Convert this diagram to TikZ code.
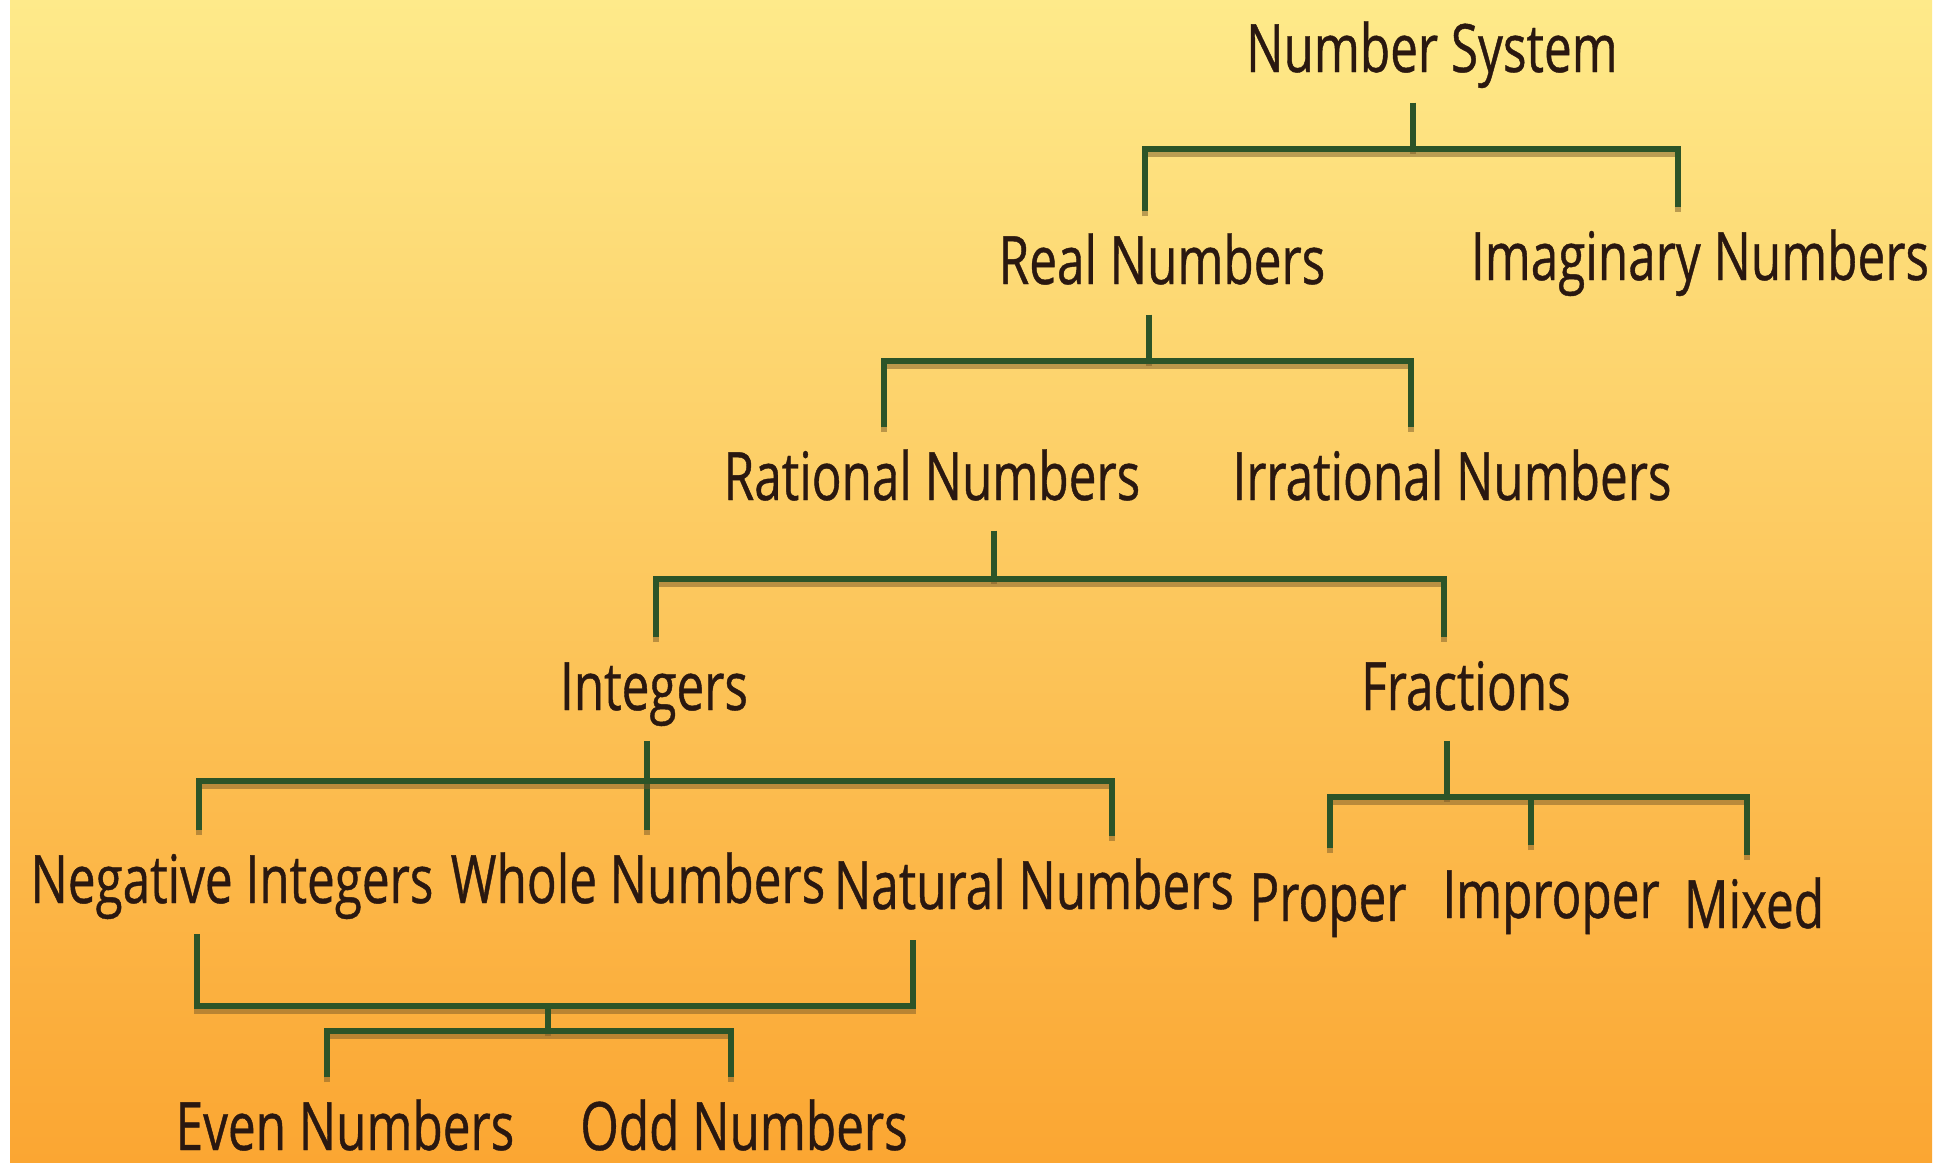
\documentclass[tikz,border=0pt]{standalone}
\usepackage{fontspec}
\setmainfont{Open Sans}[FakeStretch=0.74,FakeBold=0.6]
\usepackage{tikz}
\definecolor{bgtop}{RGB}{254,234,138}
\definecolor{bgmid}{RGB}{253,206,102}
\definecolor{bgbot}{RGB}{251,166,50}
\definecolor{termtext}{RGB}{42,24,16}
\definecolor{linegreen}{RGB}{44,84,40}
\definecolor{lineshade}{RGB}{120,90,40}
\tikzset{
    %Define style for the labels
    term/.style={
           anchor=base,
           inner xsep=0pt,
           inner ysep=0.1cm,
           text height=0.62cm,
           text depth=0.2cm,
           font=\fontsize{19}{22}\selectfont,
           text=termtext},
    %Define style for the connectors
    branch/.style={
           draw=linegreen,
           line width=1.7pt,
           preaction={draw=lineshade, opacity=0.5, line width=1.7pt,
                      transform canvas={yshift=-1.4pt}}}
}
\begin{document}
\begin{tikzpicture}[x=0.01cm,y=-0.01cm]
\useasboundingbox (0,0) rectangle (1952,1162);
\fill[white] (0,0) rectangle (1952,1162);
\shade[top color=bgtop, middle color=bgmid, bottom color=bgbot] (10,0) rectangle (1932,1162);

 %nodes
\node[term] (ns) at (1432,72) {Number System};
\node[term] (real) at (1162,284) {Real Numbers};
\node[term] (imag) at (1700,280) {Imaginary Numbers};
\node[term] (rat) at (932,500) {Rational Numbers};
\node[term] (irr) at (1452,500) {Irrational Numbers};
\node[term] (int) at (654,710) {Integers};
\node[term] (frac) at (1466,710) {Fractions};
\node[term] (neg) at (232,903) {Negative Integers};
\node[term] (whole) at (638,903) {Whole Numbers};
\node[term] (nat) at (1034,909) {Natural Numbers};
\node[term] (prop) at (1328,921) {Proper};
\node[term] (improp) at (1551,918) {Improper};
\node[term] (mix) at (1754,928) {Mixed};
\node[term] (even) at (345,1150) {Even Numbers};
\node[term] (odd) at (744,1150) {Odd Numbers};

 %junctions
\coordinate (j1) at (1413,149);
\coordinate (j2) at (1149,361);
\coordinate (j3) at (994,579);
\coordinate (j4) at (647,781);
\coordinate (j5) at (1447,797);
\coordinate (j6) at (548,1006);
\coordinate (j7) at (548,1031);

 %connectors
\draw[branch] (j1 |- ns.south) -- (j1);
\draw[branch] (1145,0 |- real.north) |- (j1) -| (1678,0 |- imag.north);
\draw[branch] (j2 |- real.south) -- (j2);
\draw[branch] (884,0 |- rat.north) |- (j2) -| (1411,0 |- irr.north);
\draw[branch] (j3 |- rat.south) -- (j3);
\draw[branch] (656,0 |- int.north) |- (j3) -| (1444,0 |- frac.north);
\draw[branch] (j4 |- int.south) -- (j4 |- whole.north);
\draw[branch] (199,0 |- neg.north) |- (j4) -| (1112,0 |- nat.north);
\draw[branch] (j5 |- frac.south) -- (j5);
\draw[branch] (1330,0 |- prop.north) |- (j5) -| (1747,0 |- mix.north);
\draw[branch] (1531,0 |- improp.north) -- (1531,0 |- j5);
\draw[branch] (197,0 |- neg.south) |- (j6) -| (913,0 |- nat.south);
\draw[branch] (j6) -- (j7);
\draw[branch] (327,0 |- even.north) |- (j7) -| (731,0 |- odd.north);
\end{tikzpicture}
\end{document}
